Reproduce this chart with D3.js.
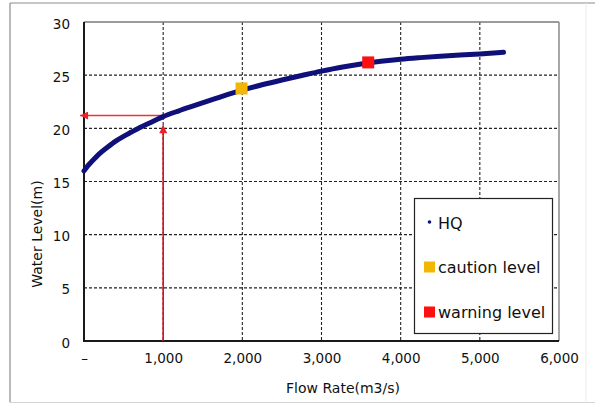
<!DOCTYPE html>
<html>
<head>
<meta charset="utf-8">
<script src="https://cdn.jsdelivr.net/npm/d3@7"></script>
<style>
  html, body { margin: 0; padding: 0; background: #fff; }
  svg { display: block; font-family: "DejaVu Sans", sans-serif; }
</style>
</head>
<body>
<svg id="chart" width="595" height="406"></svg>
<script>
// Rating (H-Q) curve: flow rate (m3/s) against water level (m)
const flowRate   = [0, 50, 100, 200, 300, 400, 500, 600, 700, 800, 900, 1000, 1200, 1400, 1600, 1800, 2000, 2250, 2500, 2750, 3000, 3250, 3500, 3750, 4000, 4250, 4500, 4750, 5000, 5300];
const waterLevel = [16.0, 16.5, 16.9, 17.65, 18.25, 18.8, 19.25, 19.65, 20.05, 20.4, 20.75, 21.1, 21.65, 22.15, 22.65, 23.15, 23.6, 24.1, 24.55, 24.97, 25.38, 25.75, 26.05, 26.3, 26.5, 26.65, 26.78, 26.9, 27.0, 27.15];

// Alert levels
const cautionLevel = { q: 1990, h: 23.75 };
const warningLevel = { q: 3590, h: 26.2 };

// Reading example: 1,000 m3/s on the curve
const readoutQ = 1000;
const readoutH = 21.2;
const readoutArrowTipH = 20.3;
const readoutArrowTipQ = -50;

// Axis ticks
const xTicks = [0, 1000, 2000, 3000, 4000, 5000, 6000];
const xTickLabels = ["\u2013", "1,000", "2,000", "3,000", "4,000", "5,000", "6,000"];
const yTicks = [0, 5, 10, 15, 20, 25, 30];

const legendItems = [
  { label: "HQ", kind: "dot", color: "#10107a" },
  { label: "caution level", kind: "square", color: "#f2b705" },
  { label: "warning level", kind: "square", color: "#ff1010" }
];

const svg = d3.select("#chart");
const W = 595, H = 406;
const plot = { left: 84, right: 559, top: 22, bottom: 341 };

const x = d3.scaleLinear().domain([0, 6000]).range([plot.left, plot.right]);
const y = d3.scaleLinear().domain([0, 30]).range([plot.bottom, plot.top]);

// Outer frame
svg.append("rect").attr("width", W).attr("height", H).attr("fill", "#fff");
svg.append("line").attr("x1", 10).attr("x2", 595).attr("y1", 3).attr("y2", 3)
  .attr("stroke", "#8c8c8c").attr("stroke-width", 1.2);
svg.append("line").attr("x1", 10).attr("x2", 10).attr("y1", 3).attr("y2", 402.5)
  .attr("stroke", "#8c8c8c").attr("stroke-width", 1.2);
svg.append("line").attr("x1", 10).attr("x2", 595).attr("y1", 402.5).attr("y2", 402.5)
  .attr("stroke", "#d4d4d4").attr("stroke-width", 1);
svg.append("line").attr("x1", 586).attr("x2", 586).attr("y1", 3).attr("y2", 402.5)
  .attr("stroke", "#ececec").attr("stroke-width", 1);

// Grid lines
const grid = svg.append("g").attr("stroke", "#222").attr("stroke-width", 1.1)
  .attr("stroke-dasharray", "3,2");
grid.selectAll(".gx").data(xTicks.slice(1, -1)).join("line")
  .attr("x1", d => x(d)).attr("x2", d => x(d))
  .attr("y1", plot.top).attr("y2", plot.bottom);
grid.selectAll(".gy").data(yTicks.slice(1, -1)).join("line")
  .attr("x1", plot.left).attr("x2", plot.right)
  .attr("y1", d => y(d)).attr("y2", d => y(d));

// Plot border: light top/right, dark axes left/bottom
svg.append("line").attr("x1", plot.left).attr("x2", plot.right).attr("y1", plot.top).attr("y2", plot.top)
  .attr("stroke", "#7a7a7a").attr("stroke-width", 1.5);
svg.append("line").attr("x1", plot.right).attr("x2", plot.right).attr("y1", plot.top).attr("y2", plot.bottom)
  .attr("stroke", "#8a8a8a").attr("stroke-width", 1.5);

// Axes (labels only; lines drawn separately)
const yAxis = svg.append("g").attr("transform", `translate(${plot.left},0)`)
  .call(d3.axisLeft(y).tickValues(yTicks).tickSize(0).tickPadding(14).tickFormat(d3.format("d")));
const xAxis = svg.append("g").attr("transform", `translate(0,${plot.bottom})`)
  .call(d3.axisBottom(x).tickValues(xTicks).tickSize(0).tickPadding(14)
    .tickFormat((d, i) => xTickLabels[i]));
[yAxis, xAxis].forEach(a => {
  a.select(".domain").remove();
  a.selectAll("text").attr("font-size", "13.5px").attr("fill", "#111")
    .attr("font-family", "DejaVu Sans, sans-serif");
});
yAxis.selectAll("text").attr("dy", "0.45em");
xAxis.selectAll("text").attr("dy", "0.62em");

svg.append("line").attr("x1", plot.left).attr("x2", plot.left).attr("y1", plot.top).attr("y2", plot.bottom + 1)
  .attr("stroke", "#1a1a1a").attr("stroke-width", 2);
svg.append("line").attr("x1", plot.left - 1).attr("x2", plot.right).attr("y1", plot.bottom).attr("y2", plot.bottom)
  .attr("stroke", "#1a1a1a").attr("stroke-width", 2);

// Axis titles
svg.append("text").attr("x", 343).attr("y", 393).attr("text-anchor", "middle")
  .attr("font-size", "14px").attr("fill", "#111").text("Flow Rate(m3/s)");
svg.append("text").attr("transform", "translate(42,234) rotate(-90)").attr("text-anchor", "middle")
  .attr("font-size", "14px").attr("fill", "#111").text("Water Level(m)");

// Reading arrows
const defs = svg.append("defs");
defs.append("marker").attr("id", "arrowRed").attr("viewBox", "0 0 10 10")
  .attr("refX", 10).attr("refY", 5).attr("markerWidth", 9).attr("markerHeight", 8)
  .attr("markerUnits", "userSpaceOnUse").attr("orient", "auto")
  .append("path").attr("d", "M0,0 L10,5 L0,10 Z").attr("fill", "#f0202a");

svg.append("line")
  .attr("x1", x(readoutQ)).attr("x2", x(readoutQ))
  .attr("y1", y(0)).attr("y2", y(readoutArrowTipH))
  .attr("stroke", "#d8101a").attr("stroke-width", 1.6).attr("marker-end", "url(#arrowRed)");
svg.append("line")
  .attr("x1", x(readoutQ)).attr("x2", x(readoutArrowTipQ))
  .attr("y1", y(readoutH)).attr("y2", y(readoutH))
  .attr("stroke", "#f0303a").attr("stroke-width", 1.6).attr("marker-end", "url(#arrowRed)");

// H-Q curve
const curveData = flowRate.map((q, i) => ({ q, h: waterLevel[i] }));
svg.append("path").datum(curveData)
  .attr("fill", "none").attr("stroke", "#10107a").attr("stroke-width", 5)
  .attr("stroke-linecap", "round").attr("stroke-linejoin", "round")
  .attr("d", d3.line().x(d => x(d.q)).y(d => y(d.h)).curve(d3.curveMonotoneX));

// Alert level markers
const mk = 12;
svg.append("rect").attr("x", x(cautionLevel.q) - mk / 2).attr("y", y(cautionLevel.h) - mk / 2)
  .attr("width", mk).attr("height", mk).attr("fill", legendItems[1].color);
svg.append("rect").attr("x", x(warningLevel.q) - mk / 2).attr("y", y(warningLevel.h) - mk / 2)
  .attr("width", mk).attr("height", mk).attr("fill", legendItems[2].color);

// Legend
const lg = svg.append("g");
lg.append("rect").attr("x", 414.5).attr("y", 198.5).attr("width", 138).attr("height", 135)
  .attr("fill", "#fff").attr("stroke", "#222").attr("stroke-width", 1.2);
const baselines = [228.5, 273, 318];
legendItems.forEach((it, i) => {
  const by = baselines[i];
  if (it.kind === "dot") {
    lg.append("circle").attr("cx", 429.5).attr("cy", by - 6.5).attr("r", 1.8).attr("fill", it.color);
  } else {
    lg.append("rect").attr("x", 424).attr("y", by - 11.5).attr("width", 11).attr("height", 11).attr("fill", it.color);
  }
  lg.append("text").attr("x", 438).attr("y", by).attr("font-size", "16px").attr("fill", "#111").text(it.label);
});
</script>
</body>
</html>
